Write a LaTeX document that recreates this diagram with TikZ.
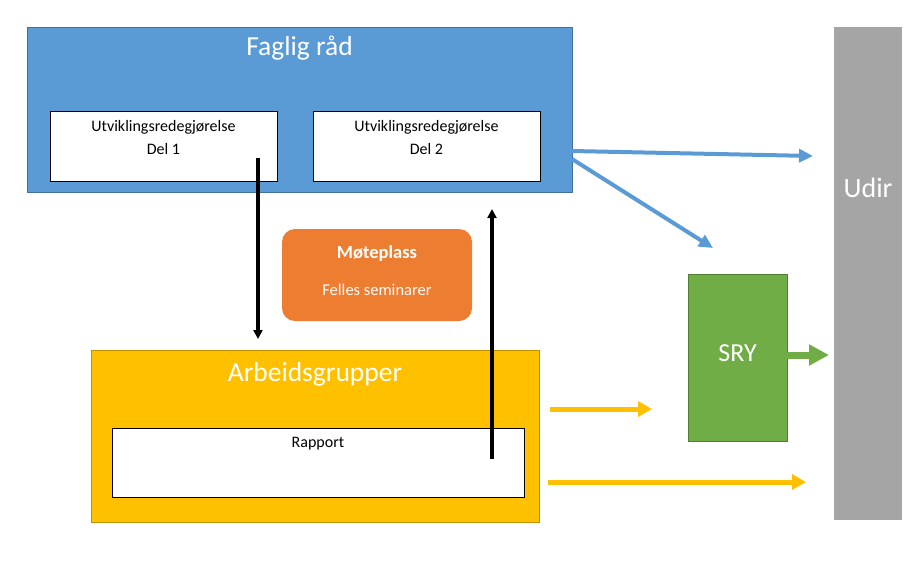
\documentclass[tikz,border=0pt]{standalone}
\usepackage{fontspec}
\setmainfont{Carlito}
\usetikzlibrary{arrows.meta,positioning}
\definecolor{cblue}{HTML}{5B9BD5}
\definecolor{cblueb}{HTML}{41719C}
\definecolor{corange}{HTML}{ED7D31}
\definecolor{cyellow}{HTML}{FFC000}
\definecolor{cyellowb}{HTML}{BF9000}
\definecolor{cgreen}{HTML}{70AD47}
\definecolor{cgreenb}{HTML}{507E32}
\definecolor{cgray}{HTML}{A5A5A5}
\tikzset{
  bigbox/.style={draw, line width=0.8pt, inner sep=0pt},
  whitebox/.style={draw=black, fill=white, line width=0.8pt, inner sep=0pt},
  title/.style={text=white, font=\fontsize{27.5}{32}\selectfont, inner sep=0pt},
  small/.style={font=\fontsize{16}{19}\selectfont, inner sep=0pt},
  blackarrow/.style={line width=3.2pt, -{Triangle[length=9pt,width=9pt]}},
  bluearrow/.style={cblue, line width=4pt, -{Triangle[length=14pt,width=13pt]}},
  yelarrow/.style={cyellow, line width=5pt, -{Triangle[length=14pt,width=15pt]}},
  greenarrow/.style={cgreen, line width=7pt, -{Triangle[length=20pt,width=20pt]}},
}
\begin{document}
\begin{tikzpicture}[x=1pt,y=-1pt]
\useasboundingbox (0,0) rectangle (916,566);
% Faglig rad
\node[bigbox, fill=cblue, draw=cblueb, minimum width=545pt, minimum height=165pt] (fr) at (299.5,109.5) {};
\node[title] (frt) at (299.5,48) {Faglig råd};
\node[whitebox, minimum width=227pt, minimum height=70pt] (d1) at (163.5,146) {};
\node[small] (d1t) at (163.5,127) {Utviklingsredegjørelse};
\node[small] (d1u) at (163.5,149) {Del 1};
\node[whitebox, minimum width=227pt, minimum height=70pt] (d2) at (426.5,146) {};
\node[small] (d2t) at (426.5,127) {Utviklingsredegjørelse};
\node[small] (d2u) at (426.5,149) {Del 2};
% Moteplass
\node[fill=corange, rounded corners=13pt, minimum width=190pt, minimum height=92pt, inner sep=0pt] (mp) at (377,275) {};
\node[text=white, font=\fontsize{18.5}{22}\selectfont\bfseries, inner sep=0pt] (mpt) at (377,253) {Møteplass};
\node[text=white, font=\fontsize{16.5}{20}\selectfont, inner sep=0pt] (mps) at (377,290) {Felles seminarer};
% Arbeidsgrupper
\node[bigbox, fill=cyellow, draw=cyellowb, minimum width=448pt, minimum height=172pt] (ag) at (315,436) {};
\node[title] (agt) at (315,374) {Arbeidsgrupper};
\node[whitebox, minimum width=412pt, minimum height=69pt] (rp) at (318,462.5) {};
\node[small] (rpt) at (318,444) {Rapport};
% SRY
\node[bigbox, fill=cgreen, draw=cgreenb, minimum width=99pt, minimum height=167pt] (sry) at (737.5,357.5) {};
\node[title, font=\fontsize{26}{30}\selectfont] (sryt) at (737.5,353) {SRY};
% Udir
\node[fill=cgray, minimum width=68pt, minimum height=493pt, inner sep=0pt] (ud) at (868,273.5) {};
\node[title, font=\fontsize{28}{32}\selectfont] (udt) at (868,188) {Udir};
% coordinates
\coordinate (a1s) at (258,158);
\coordinate (a1e) at (258,339);
\coordinate (a2s) at (492,459);
\coordinate (a2e) at (492,209);
\coordinate (b1s) at (572,151);
\coordinate (b1e) at (813,156);
\coordinate (b2s) at (572,159);
\coordinate (b2e) at (713,248);
\coordinate (y1s) at (550,409);
\coordinate (y1e) at (652,409);
\coordinate (y2s) at (548,482);
\coordinate (y2e) at (806,482);
\coordinate (ge) at (829,355);
% arrows
\draw[blackarrow] (a1s) -- (a1e);
\draw[blackarrow] (a2s) -- (a2e);
\draw[bluearrow] (b1s) -- (b1e);
\draw[bluearrow] (b2s) -- (b2e);
\draw[yelarrow] (y1s) -- (y1e);
\draw[yelarrow] (y2s) -- (y2e);
\draw[greenarrow] (sry.east |- ge) -- (ge);
\end{tikzpicture}
\end{document}
